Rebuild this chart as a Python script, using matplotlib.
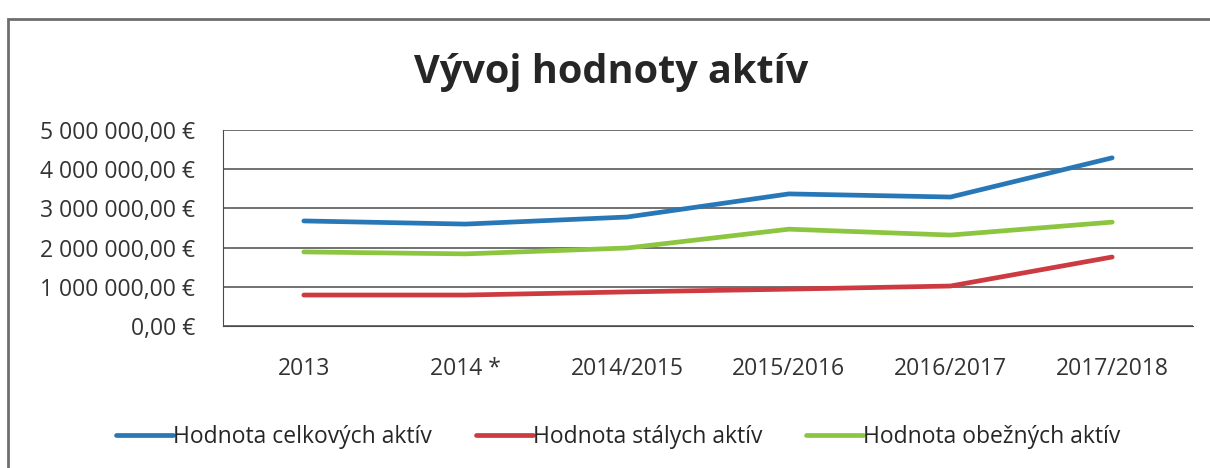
import matplotlib.pyplot as plt
from matplotlib.patches import Rectangle
from matplotlib.ticker import FuncFormatter

years = ['2013', '2014 *', '2014/2015', '2015/2016', '2016/2017', '2017/2018']
celkove = [2680000, 2600000, 2780000, 3370000, 3290000, 4290000]
stale = [790000, 790000, 870000, 940000, 1020000, 1760000]
obezne = [1890000, 1840000, 1990000, 2470000, 2320000, 2650000]

plt.rcParams['font.family'] = ['Open Sans', 'DejaVu Sans']

fig = plt.figure(figsize=(12.1, 4.68), dpi=100)
W, H = 1210, 468

# outer chart frame (runs off the right and bottom of the scan)
fig.add_artist(Rectangle((8 / W, -0.05), 1.2, 1 - 19 / H + 0.05, transform=fig.transFigure,
                         fill=False, edgecolor='#6e6e6e', linewidth=2))

ax = fig.add_axes([223 / W, 1 - 326 / H, (1193 - 223) / W, (326 - 130) / H])
x = range(len(years))
ax.plot(x, celkove, color='#2878b8', lw=3.4, solid_capstyle='round', solid_joinstyle='round',
        label='Hodnota celkových aktív')
ax.plot(x, stale, color='#cd3a40', lw=3.4, solid_capstyle='round', solid_joinstyle='round',
        label='Hodnota stálych aktív')
ax.plot(x, obezne, color='#8cc540', lw=3.4, solid_capstyle='round', solid_joinstyle='round',
        label='Hodnota obežných aktív')

ax.set_xlim(-0.5, len(years) - 0.5)
ax.set_ylim(0, 5000000)
ax.set_yticks(range(0, 5000001, 1000000))
ax.yaxis.set_major_formatter(FuncFormatter(
    lambda v, p: '{:,.2f} €'.format(v).replace(',', ' ').replace('.', ',')))
ax.set_xticks(list(x))
ax.set_xticklabels(years)
ax.tick_params(axis='both', length=0, labelsize=16.5, colors='#333333')
ax.tick_params(axis='x', pad=22)
ax.tick_params(axis='y', pad=20)
ax.grid(axis='y', color='#4a4a4a', lw=1.1)
ax.set_axisbelow(True)
for s in ['top', 'right']:
    ax.spines[s].set_visible(False)
ax.spines['left'].set_color('#4a4a4a')
ax.spines['bottom'].set_color('#4a4a4a')

fig.text(0.505, 1 - 73 / H, 'Vývoj hodnoty aktív', ha='center', va='center',
         fontsize=28.5, fontweight='bold', color='#262626')

fig.legend(loc='center', bbox_to_anchor=(0.511, 1 - 437 / H), ncol=3, frameon=False,
           fontsize=16.5, handlelength=2.5, handletextpad=0.0, columnspacing=1.9,
           labelcolor='#262626')

fig.savefig('out.png', dpi=100, facecolor='white')
